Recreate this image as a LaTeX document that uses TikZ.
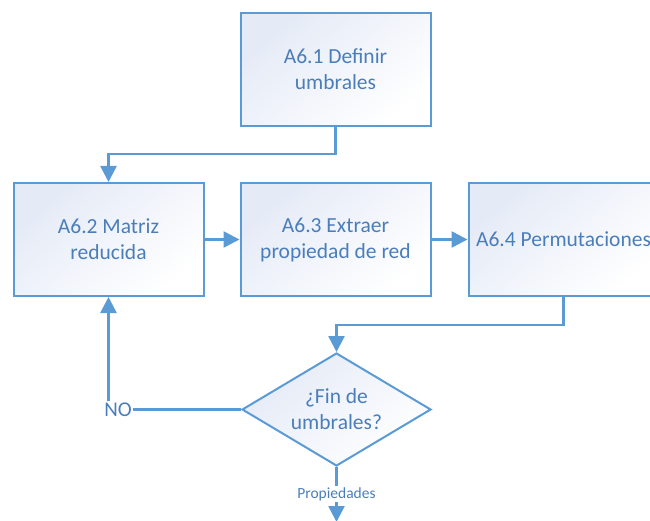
\documentclass[tikz,border=0pt]{standalone}
\usepackage{fontspec}
\setmainfont{Carlito}
\usetikzlibrary{shapes.geometric,arrows.meta}
\definecolor{flowline}{HTML}{5B9BD5}
\definecolor{flowtext}{HTML}{4A7EBB}
\definecolor{flowfill}{HTML}{E4EAF6}
\tikzset{
  procbox/.style={rectangle, draw=flowline, line width=2pt,
    top color=flowfill, bottom color=white, shading angle=40,
    minimum width=190pt, minimum height=113pt, inner sep=0pt,
    text=flowtext, align=center, font=\fontsize{21.5}{26}\selectfont},
  decision/.style={diamond, draw=flowline, line width=2pt,
    top color=flowfill, bottom color=white, shading angle=40,
    minimum width=189pt, minimum height=113pt, inner sep=0pt},
  boxtext/.style={text=flowtext, align=center, inner sep=0pt,
    font=\fontsize{21.5}{26}\selectfont},
  link/.style={draw=flowline, line width=2.6pt},
  arr/.style={link, -{Triangle[length=16pt,width=16pt]}},
  plainlabel/.style={text=flowtext, inner sep=1pt}
}
\begin{document}
\begin{tikzpicture}[x=1pt,y=-1pt]
\useasboundingbox (0,0) rectangle (650,521);
\clip (0,0) rectangle (650,521);
% process steps
\node[procbox] (a1) at (335.5,69.5) {A6.1 Definir\\umbrales};
\node[procbox] (a2) at (108.5,239.5) {A6.2 Matriz\\reducida};
\node[procbox] (a3) at (335.5,239.5) {A6.3 Extraer\\propiedad de red};
\node[procbox] (a4) at (563.5,239.5) {A6.4 Permutaciones};
% decision
\node[decision] (d) at (336.5,409.5) {};
\node[boxtext] (dtext) at (d.center) {¿Fin de\\umbrales?};
\node[plainlabel, font=\fontsize{21}{24}\selectfont] (no) at (118,409.5) {NO};
\node[plainlabel, font=\fontsize{15.5}{18}\selectfont] (prop) at (336.5,494) {Propiedades};
\coordinate (out) at (336.5,522);
% connectors
\draw[arr] (a1.south) -- ++(0,27) -| (a2.north);
\draw[arr] (a2) -- (a3);
\draw[arr] (a3) -- (a4);
\draw[arr] (a4.south) -- ++(0,28) -| (d.north);
\draw[link] (d.west) -- (no.east);
\draw[arr] (no.north -| a2.south) -- (a2.south);
\draw[link] (d.south) -- (prop.north);
\draw[arr] (prop.south) -- (out);
\end{tikzpicture}
\end{document}
